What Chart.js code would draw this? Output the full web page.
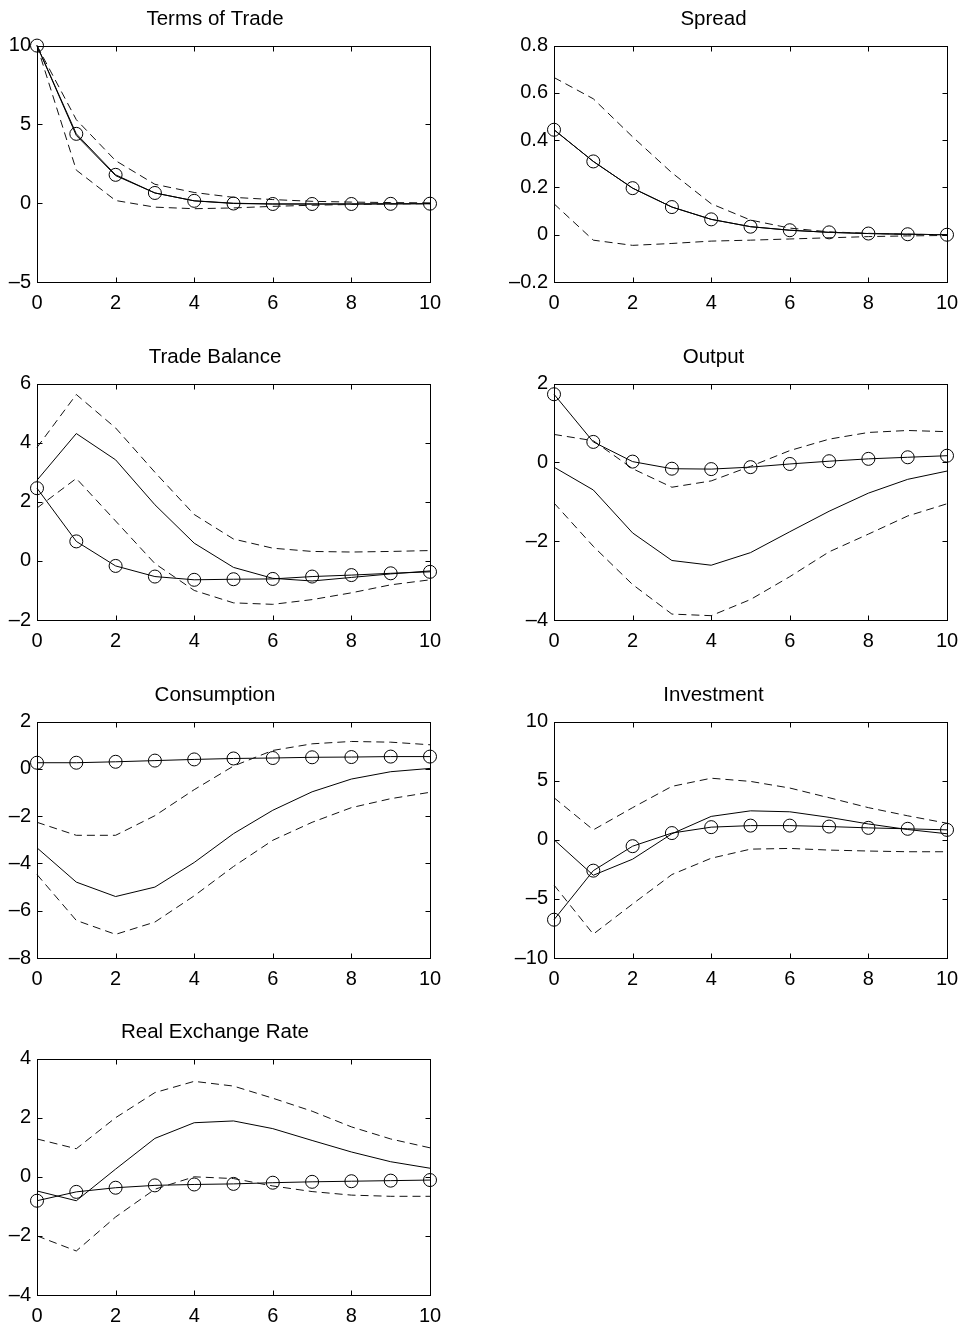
<!DOCTYPE html>
<html>
<head>
<meta charset="utf-8">
<script src="https://cdn.jsdelivr.net/npm/chart.js@4.4.0/dist/chart.umd.min.js"></script>
<style>
  body { margin: 0; background: #fff; width: 962px; height: 1325px; overflow: hidden; position: relative; }
  .panel { position: absolute; }
</style>
</head>
<body>
<div class="panel" id="p1"><canvas id="c1"></canvas></div>
<div class="panel" id="p2"><canvas id="c2"></canvas></div>
<div class="panel" id="p3"><canvas id="c3"></canvas></div>
<div class="panel" id="p4"><canvas id="c4"></canvas></div>
<div class="panel" id="p5"><canvas id="c5"></canvas></div>
<div class="panel" id="p6"><canvas id="c6"></canvas></div>
<div class="panel" id="p7"><canvas id="c7"></canvas></div>
<script>
// horizon (quarters after the shock)
const horizon = [0, 1, 2, 3, 4, 5, 6, 7, 8, 9, 10];
const xTicks = [0, 2, 4, 6, 8, 10];

// Terms of Trade
const totModel = [10, 4.4, 1.8, 0.65, 0.15, -0.02, -0.05, -0.05, -0.05, -0.04, -0.03];
const totVar   = [10, 4.3, 1.75, 0.65, 0.15, 0, -0.05, -0.05, -0.05, -0.04, -0.03];
const totUpper = [10, 5.3, 2.7, 1.2, 0.68, 0.37, 0.23, 0.12, 0.07, 0.04, 0.02];
const totLower = [10, 2.1, 0.17, -0.25, -0.35, -0.3, -0.2, -0.13, -0.08, -0.05, -0.03];

// Spread
const sprModel = [0.444, 0.31, 0.197, 0.117, 0.065, 0.034, 0.019, 0.01, 0.005, 0.002, 0];
const sprVar   = [0.444, 0.31, 0.197, 0.117, 0.065, 0.034, 0.019, 0.01, 0.005, 0.002, 0];
const sprUpper = [0.665, 0.575, 0.414, 0.262, 0.131, 0.062, 0.028, 0.012, 0.006, 0.002, 0.0];
const sprLower = [0.131, -0.023, -0.045, -0.037, -0.027, -0.023, -0.018, -0.013, -0.008, -0.005, -0.003];

// Trade Balance
const tbModel = [2.46, 0.66, -0.17, -0.53, -0.64, -0.62, -0.61, -0.53, -0.48, -0.42, -0.37];
const tbVar   = [2.73, 4.31, 3.42, 1.9, 0.6, -0.22, -0.59, -0.68, -0.56, -0.44, -0.34];
const tbUpper = [3.84, 5.63, 4.5, 3.0, 1.57, 0.74, 0.43, 0.32, 0.3, 0.32, 0.35];
const tbLower = [1.79, 2.79, 1.35, -0.09, -1.0, -1.42, -1.47, -1.31, -1.08, -0.81, -0.64];

// Output
const outModel = [1.73, 0.52, 0.02, -0.16, -0.17, -0.12, -0.04, 0.03, 0.09, 0.13, 0.17];
const outVar   = [-0.12, -0.7, -1.79, -2.49, -2.61, -2.29, -1.76, -1.24, -0.78, -0.43, -0.22];
const outUpper = [0.71, 0.55, -0.16, -0.63, -0.47, -0.1, 0.3, 0.59, 0.76, 0.81, 0.78];
const outLower = [-1.03, -2.13, -3.1, -3.85, -3.89, -3.48, -2.9, -2.27, -1.82, -1.36, -1.05];

// Consumption
const conModel = [0.26, 0.26, 0.3, 0.35, 0.4, 0.44, 0.46, 0.49, 0.5, 0.52, 0.52];
const conVar   = [-3.34, -4.79, -5.4, -5.0, -3.96, -2.74, -1.75, -0.97, -0.43, -0.12, 0.02];
const conUpper = [-2.26, -2.81, -2.81, -1.98, -0.88, 0.12, 0.78, 1.06, 1.16, 1.13, 1.02];
const conLower = [-4.47, -6.41, -7.0, -6.48, -5.37, -4.13, -3.02, -2.26, -1.64, -1.26, -0.99];

// Investment
const invModel = [-6.76, -2.61, -0.54, 0.57, 1.07, 1.2, 1.2, 1.12, 1.01, 0.93, 0.84];
const invVar   = [0.01, -3.0, -1.64, 0.51, 1.98, 2.45, 2.37, 1.9, 1.34, 0.87, 0.51];
const invUpper = [3.56, 0.84, 2.72, 4.52, 5.21, 4.94, 4.38, 3.56, 2.72, 2.03, 1.4];
const invLower = [-3.83, -7.98, -5.43, -2.94, -1.56, -0.79, -0.73, -0.87, -0.95, -1.01, -1.01];

// Real Exchange Rate
const rerModel = [-0.81, -0.51, -0.37, -0.29, -0.26, -0.24, -0.2, -0.17, -0.15, -0.13, -0.11];
const rerVar   = [-0.48, -0.81, 0.26, 1.3, 1.83, 1.89, 1.63, 1.23, 0.84, 0.51, 0.29];
const rerUpper = [1.28, 0.95, 2.0, 2.85, 3.23, 3.07, 2.66, 2.22, 1.69, 1.28, 0.98];
const rerLower = [-2.0, -2.51, -1.36, -0.42, 0.0, -0.06, -0.31, -0.5, -0.62, -0.66, -0.66];

Chart.defaults.font.family = '"Liberation Sans", Arial, Helvetica, sans-serif';
Chart.defaults.color = '#000';
Chart.defaults.animation = false;

// box round the plot area with inward ticks on all four sides
const matlabBox = {
  id: 'matlabBox',
  afterDraw(chart) {
    const { ctx, chartArea: a, scales: { x, y } } = chart;
    const L = Math.round(a.left) + 0.5, R = Math.round(a.right) + 0.5;
    const T = Math.round(a.top) + 0.5, B = Math.round(a.bottom) + 0.5;
    ctx.save();
    ctx.strokeStyle = '#000';
    ctx.lineWidth = 1;
    ctx.strokeRect(L, T, R - L, B - T);
    ctx.beginPath();
    x.ticks.forEach(t => {
      const px = Math.round(x.getPixelForValue(t.value)) + 0.5;
      ctx.moveTo(px, B); ctx.lineTo(px, B - 5);
      ctx.moveTo(px, T); ctx.lineTo(px, T + 5);
    });
    y.ticks.forEach(t => {
      const py = Math.round(y.getPixelForValue(t.value)) + 0.5;
      ctx.moveTo(L, py); ctx.lineTo(L + 5, py);
      ctx.moveTo(R, py); ctx.lineTo(R - 5, py);
    });
    ctx.stroke();
    ctx.restore();
  }
};

function pts(values) {
  return values.map((v, i) => ({ x: horizon[i], y: v }));
}

function fmt(v) {
  const s = Number.isInteger(v) ? String(v) : v.toFixed(1);
  return s.replace('-', '\u2013');
}

function createPanel(id, title, col, row, series, yMin, yMax, yStep) {
  const areaLeft = col === 0 ? 37 : 554;
  const areaRight = col === 0 ? 430 : 947;
  const areaTops = [40, 378, 716, 1053];
  const canvasLeft = col === 0 ? 0 : 480;
  const canvasWidth = col === 0 ? 480 : 500;
  const yWidth = areaLeft - canvasLeft;
  const box = document.getElementById('p' + id);
  box.style.left = canvasLeft + 'px';
  box.style.top = (areaTops[row] - 45) + 'px';
  box.style.width = canvasWidth + 'px';
  box.style.height = '327px';

  const dashed = values => ({
    data: pts(values), borderColor: '#111', borderWidth: 1, borderDash: [8, 5],
    pointRadius: 0, tension: 0, clip: false
  });

  new Chart(document.getElementById('c' + id), {
    type: 'line',
    data: {
      datasets: [
        dashed(series.upper),
        dashed(series.lower),
        { data: pts(series.varLine), borderColor: '#000', borderWidth: 1, pointRadius: 0, tension: 0, clip: false },
        { data: pts(series.model), borderColor: '#000', borderWidth: 1, tension: 0, clip: false,
          pointRadius: 6.5, pointBorderWidth: 1, pointBorderColor: '#000',
          pointBackgroundColor: 'rgba(0,0,0,0)', pointStyle: 'circle' }
      ]
    },
    options: {
      responsive: true,
      maintainAspectRatio: false,
      layout: { padding: { left: 0, right: canvasWidth - (areaRight - canvasLeft), top: 0, bottom: 0 } },
      plugins: {
        legend: { display: false },
        tooltip: { enabled: false },
        title: { display: true, text: title, color: '#000',
                 font: { size: 20.5, weight: 'normal' }, padding: { top: 12, bottom: 14 } }
      },
      scales: {
        x: {
          type: 'linear', min: 0, max: 10,
          afterBuildTicks: s => { s.ticks = xTicks.map(v => ({ value: v })); },
          afterFit: s => { s.height = 40; },
          grid: { display: false, drawTicks: false, tickLength: 0 }, border: { display: false },
          ticks: { font: { size: 20 }, padding: 9, maxRotation: 0, callback: v => fmt(v) }
        },
        y: {
          min: yMin, max: yMax,
          afterFit: s => { s.width = yWidth; },
          grid: { display: false, drawTicks: false, tickLength: 0 }, border: { display: false },
          ticks: { stepSize: yStep, font: { size: 20 }, padding: 6, callback: v => fmt(v) }
        }
      }
    },
    plugins: [matlabBox]
  });
}

createPanel(1, 'Terms of Trade', 0, 0, { model: totModel, varLine: totVar, upper: totUpper, lower: totLower }, -5, 10, 5);
createPanel(2, 'Spread', 1, 0, { model: sprModel, varLine: sprVar, upper: sprUpper, lower: sprLower }, -0.2, 0.8, 0.2);
createPanel(3, 'Trade Balance', 0, 1, { model: tbModel, varLine: tbVar, upper: tbUpper, lower: tbLower }, -2, 6, 2);
createPanel(4, 'Output', 1, 1, { model: outModel, varLine: outVar, upper: outUpper, lower: outLower }, -4, 2, 2);
createPanel(5, 'Consumption', 0, 2, { model: conModel, varLine: conVar, upper: conUpper, lower: conLower }, -8, 2, 2);
createPanel(6, 'Investment', 1, 2, { model: invModel, varLine: invVar, upper: invUpper, lower: invLower }, -10, 10, 5);
createPanel(7, 'Real Exchange Rate', 0, 3, { model: rerModel, varLine: rerVar, upper: rerUpper, lower: rerLower }, -4, 4, 2);
</script>
</body>
</html>
